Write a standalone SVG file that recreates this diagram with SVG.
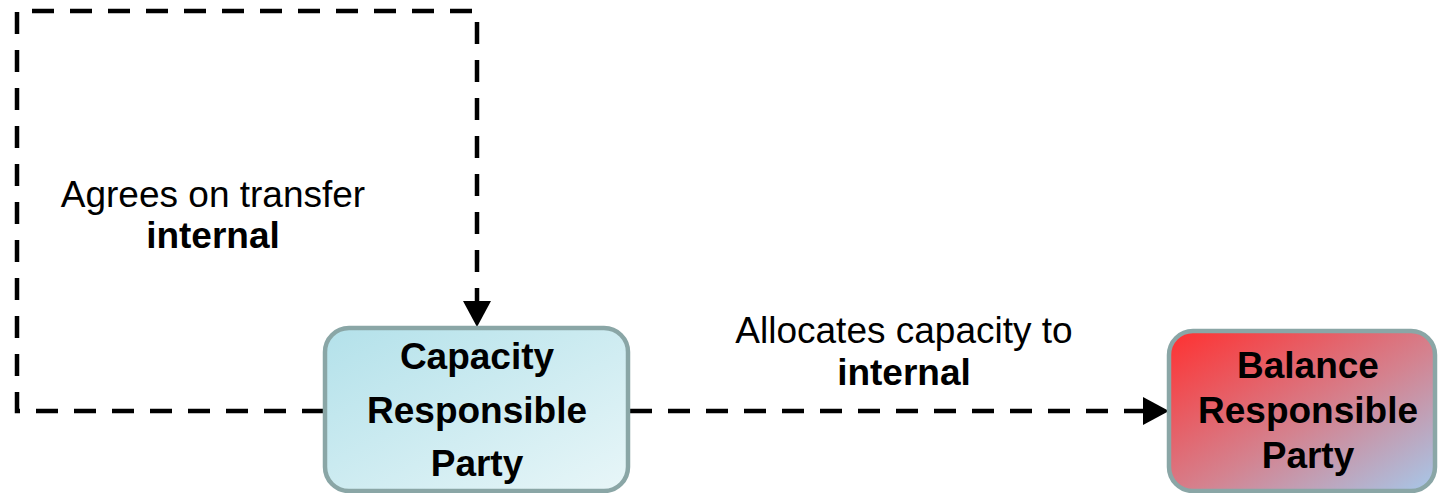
<svg xmlns="http://www.w3.org/2000/svg" width="1438" height="493" viewBox="0 0 1438 493">
<style>
.conn{fill:none;stroke:#000;stroke-width:4.5;stroke-dasharray:22 16}
.lbl{font-family:"Liberation Sans",Arial,sans-serif;font-size:37px;fill:#000;text-anchor:middle}
.b{font-weight:bold}
.box{stroke:#8aa6a6;stroke-width:4.5}
</style>
<defs>
<linearGradient id="gCap" x1="0" y1="0" x2="1" y2="1">
<stop offset="0" stop-color="#b3e1ea"/>
<stop offset="1" stop-color="#e8f6f8"/>
</linearGradient>
<linearGradient id="gBal" x1="0" y1="0" x2="1" y2="1">
<stop offset="0" stop-color="#ff3030"/>
<stop offset="0.55" stop-color="#d4828f"/>
<stop offset="1" stop-color="#a6c8ea"/>
</linearGradient>
<marker id="arr" viewBox="0 0 26 28" refX="0" refY="14" markerWidth="26" markerHeight="28" markerUnits="userSpaceOnUse" orient="auto">
<path d="M0,0 L26,14 L0,28 z" fill="#000"/>
</marker>
</defs>
<g id="connectors">
<path class="conn" d="M324,411 L17,411 L17,11 L477,11 L477,301" marker-end="url(#arr)"/>
<path class="conn" d="M630,411 L1143,411" marker-end="url(#arr)"/>
</g>
<g id="label-agrees">
<text class="lbl" x="213" y="207">Agrees on transfer</text>
<text class="lbl b" x="213" y="248">internal</text>
</g>
<g id="label-allocates">
<text class="lbl" x="904" y="343">Allocates capacity to</text>
<text class="lbl b" x="904" y="385">internal</text>
</g>
<g id="node-capacity">
<rect class="box" x="325" y="328" width="303" height="163" rx="24" fill="url(#gCap)"/>
<text class="lbl b" x="477" y="369">Capacity</text>
<text class="lbl b" x="477" y="423">Responsible</text>
<text class="lbl b" x="477" y="476">Party</text>
</g>
<g id="node-balance">
<rect class="box" x="1169" y="331" width="266" height="160" rx="24" fill="url(#gBal)"/>
<text class="lbl b" x="1308" y="378">Balance</text>
<text class="lbl b" x="1308" y="423">Responsible</text>
<text class="lbl b" x="1308" y="468">Party</text>
</g>
</svg>
